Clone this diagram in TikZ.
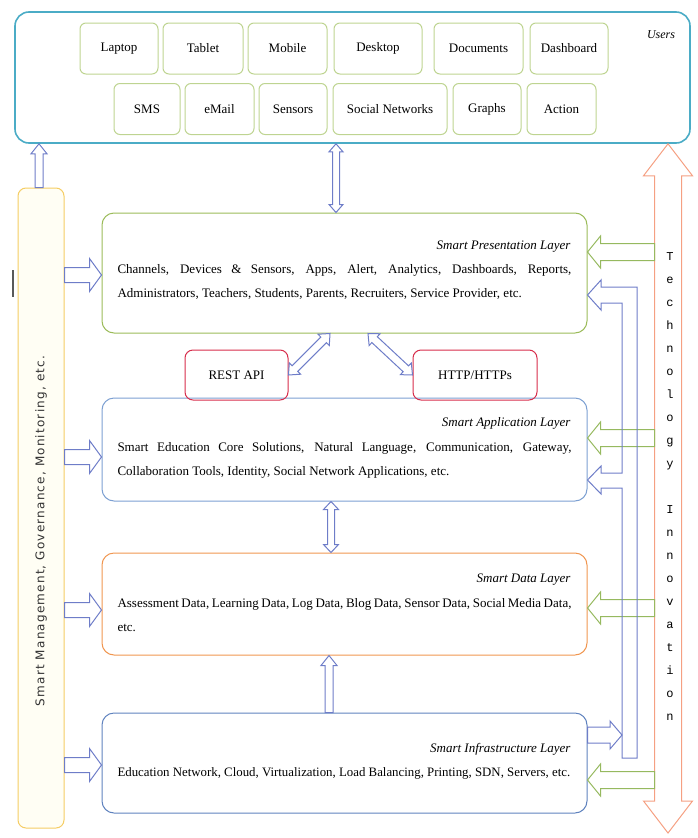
\documentclass[tikz,border=0pt]{standalone}
\usepackage{fontspec}
\setmainfont{Liberation Serif}
\newfontfamily\monofont{Liberation Mono}
\newfontfamily\barfont[LetterSpace=10]{DejaVu Sans}
\usetikzlibrary{calc}

\definecolor{usersC}{RGB}{75,172,198}
\definecolor{itemC}{RGB}{190,212,145}
\definecolor{presC}{RGB}{155,187,89}
\definecolor{appC}{RGB}{125,160,210}
\definecolor{dataC}{RGB}{240,150,80}
\definecolor{infraC}{RGB}{95,130,190}
\definecolor{apiC}{RGB}{215,45,75}
\definecolor{barC}{RGB}{245,205,100}
\definecolor{barF}{RGB}{255,254,244}
\definecolor{techC}{RGB}{245,160,130}
\definecolor{greenC}{RGB}{150,185,95}
\definecolor{blueC}{RGB}{110,125,200}

\tikzset{every picture/.style={line width=1pt}}
\tikzset{
  arr shaft/.store in=\arrw, arr head/.store in=\arrW, arr len/.store in=\arrh,
  arr shaft=4pt, arr head=8pt, arr len=8pt,
  blockarrow/.style={to path={let \p1=(\tikztostart), \p2=(\tikztotarget),
      \n1={atan2(\y2-\y1,\x2-\x1)}, \n2={veclen(\x2-\x1,\y2-\y1)-\arrh} in
      ($(\p1)+(\n1+90:\arrw)$) -- ($(\p1)+(\n1:\n2)+(\n1+90:\arrw)$)
      -- ($(\p1)+(\n1:\n2)+(\n1+90:\arrW)$) -- (\p2)
      -- ($(\p1)+(\n1:\n2)+(\n1-90:\arrW)$) -- ($(\p1)+(\n1:\n2)+(\n1-90:\arrw)$)
      -- ($(\p1)+(\n1-90:\arrw)$) -- cycle}},
  dblockarrow/.style={to path={let \p1=(\tikztostart), \p2=(\tikztotarget),
      \n1={atan2(\y2-\y1,\x2-\x1)}, \n2={veclen(\x2-\x1,\y2-\y1)-\arrh} in
      (\p1) -- ($(\p1)+(\n1:\arrh)+(\n1+90:\arrW)$) -- ($(\p1)+(\n1:\arrh)+(\n1+90:\arrw)$)
      -- ($(\p1)+(\n1:\n2)+(\n1+90:\arrw)$) -- ($(\p1)+(\n1:\n2)+(\n1+90:\arrW)$) -- (\p2)
      -- ($(\p1)+(\n1:\n2)+(\n1-90:\arrW)$) -- ($(\p1)+(\n1:\n2)+(\n1-90:\arrw)$)
      -- ($(\p1)+(\n1:\arrh)+(\n1-90:\arrw)$) -- ($(\p1)+(\n1:\arrh)+(\n1-90:\arrW)$) -- cycle}},
}

\begin{document}
\begin{tikzpicture}[x=1pt,y=-1pt,
  item/.style={draw=itemC, rounded corners=6pt, minimum height=51pt, inner sep=0pt, font=\fontsize{13}{15}\selectfont},
  layer/.style={rounded corners=12pt, minimum width=485pt, inner sep=0pt},
  ttl/.style={anchor=east, inner sep=0pt, font=\itshape\fontsize{13}{15}\selectfont},
  body/.style={anchor=west, text width=454pt, align=justify, inner sep=0pt, font=\fontsize{13}{24}\selectfont},
  api/.style={draw=apiC, rounded corners=8pt, minimum height=50pt, inner sep=0pt, font=\fontsize{13}{15}\selectfont},
  bluearr/.style={draw=blueC},
  greenarr/.style={draw=greenC, arr shaft=8.5pt, arr head=16pt, arr len=13pt},
  mgmtarr/.style={draw=blueC, arr shaft=7.5pt, arr head=16.5pt, arr len=12pt}]
\useasboundingbox (0,0) rectangle (698,838);

%Users box
\node[draw=usersC, line width=1.6pt, rounded corners=14pt, minimum width=675pt, minimum height=131pt] (users) at (352.5,77.5) {};
\node[font=\itshape\fontsize{12}{14}\selectfont] (userslbl) at (661,35) {Users};

%Users items
\node[item, minimum width=78pt] (laptop) at (119,48.5) {Laptop};
\node[item, minimum width=80pt] (tablet) at (203,48.5) {Tablet};
\node[item, minimum width=79pt] (mobile) at (287.5,48.5) {Mobile};
\node[item, minimum width=88pt] (desktop) at (378,48.5) {Desktop};
\node[item, minimum width=89pt] (documents) at (478.5,48.5) {Documents};
\node[item, minimum width=78pt] (dashboard) at (569,48.5) {Dashboard};
\node[item, minimum width=66pt] (sms) at (147,109) {SMS};
\node[item, minimum width=69pt] (email) at (219.5,109) {eMail};
\node[item, minimum width=68pt] (sensors) at (293,109) {Sensors};
\node[item, minimum width=114pt] (socialnet) at (390,109) {Social Networks};
\node[item, minimum width=68pt] (graphs) at (487,109) {Graphs};
\node[item, minimum width=69pt] (action) at (561.5,109) {Action};

%Management bar
\node[draw=barC, fill=barF, rounded corners=8pt, minimum width=46pt, minimum height=640pt] (mgmt) at (41,508) {};
\node[rotate=90, inner sep=0pt, text=black!80, font=\barfont\fontsize{12}{14}\selectfont] (mgmtlbl) at (41,531) {Smart Management, Governance, Monitoring, etc.};
\draw[line width=2pt, black!65] (13,270) -- (13,297);

%Layers
\node[layer, draw=presC, minimum height=120pt] (pres) at (344.5,273) {};
\node[ttl] (prestitle) at (571,247) {Smart Presentation Layer};
\node[body] (presbody) at (117,282) {Channels, Devices \& Sensors, Apps, Alert, Analytics, Dashboards, Reports,\linebreak Administrators, Teachers, Students, Parents, Recruiters, Service Provider, etc.};

\node[layer, draw=appC, minimum height=103pt] (app) at (344.5,449.5) {};
\node[ttl] (apptitle) at (571,423) {Smart Application Layer};
\node[body] (appbody) at (117,460) {Smart Education Core Solutions, Natural Language, Communication, Gateway,\linebreak Collaboration Tools, Identity, Social Network Applications, etc.};

\node[layer, draw=dataC, minimum height=102pt] (data) at (344.5,604) {};
\node[ttl] (datatitle) at (571,580) {Smart Data Layer};
\node[body] (databody) at (117,615) {Assessment Data, Learning Data, Log Data, Blog Data, Sensor Data, Social Media Data,\linebreak etc.};

\node[layer, draw=infraC, minimum height=100pt] (infra) at (344.5,763) {};
\node[ttl] (infratitle) at (571,749) {Smart Infrastructure Layer};
\node[anchor=west, inner sep=0pt, font=\fontsize{12.85}{15}\selectfont] (infrabody) at (117,773) {Education Network, Cloud, Virtualization, Load Balancing, Printing, SDN, Servers, etc.};

%Interfaces
\node[api, minimum width=103pt] (rest) at (236.5,375) {REST API};
\node[api, minimum width=124pt] (http) at (475,375) {HTTP/HTTPs};

%Vertical arrows
\draw[bluearr, arr shaft=4pt, arr head=8pt, arr len=10pt] (mgmt.north -| 39,0) to[blockarrow] (users.south -| 39,0);
\draw[bluearr, arr shaft=3.5pt, arr head=7pt, arr len=8pt] (users.south -| 336,0) to[dblockarrow] (pres.north -| 336,0);
\draw[bluearr, arr shaft=4pt, arr head=8pt, arr len=9pt] (pres.south -| 330,0) to[dblockarrow] (rest.east);
\draw[bluearr, arr shaft=4pt, arr head=8pt, arr len=9pt] (pres.south -| 368,0) to[dblockarrow] (http.west);
\draw[bluearr, arr shaft=3.5pt, arr head=7.5pt, arr len=8pt] (app.south -| 331,0) to[dblockarrow] (data.north -| 331,0);
\draw[bluearr, arr shaft=4pt, arr head=8pt, arr len=10pt] (infra.north -| 329,0) to[blockarrow] (data.south -| 329,0);

%Management arrows
\draw[mgmtarr] (mgmt.east |- 0,275) to[blockarrow] (pres.west |- 0,275);
\draw[mgmtarr] (mgmt.east |- 0,457) to[blockarrow] (app.west |- 0,457);
\draw[mgmtarr] (mgmt.east |- 0,610) to[blockarrow] (data.west |- 0,610);
\draw[mgmtarr] (mgmt.east |- 0,765) to[blockarrow] (infra.west |- 0,765);

%Technology innovation
\coordinate (techbot) at (668,833);
\draw[draw=techC, arr shaft=13.5pt, arr head=24.5pt, arr len=32pt] (users.south -| techbot) to[dblockarrow] (techbot);
\node[align=center, inner sep=0pt, font=\monofont\fontsize{12}{23}\selectfont] (tech) at (670,487) {T\\e\\c\\h\\n\\o\\l\\o\\g\\y\\[23pt]I\\n\\n\\o\\v\\a\\t\\i\\o\\n};

\draw[greenarr] (654.5,252) to[blockarrow] (pres.east |- 0,252);
\draw[greenarr] (654.5,438) to[blockarrow] (app.east |- 0,438);
\draw[greenarr] (654.5,608) to[blockarrow] (data.east |- 0,608);
\draw[greenarr] (654.5,780) to[blockarrow] (infra.east |- 0,780);

%Feedback pipe
\draw[bluearr] (637,758) -- (637,287) -- (601,287) -- (601,280) -- (pres.east |- 0,295) -- (601,310) -- (601,303) -- (622,303) -- (622,473) -- (601,473) -- (601,466) -- (app.east |- 0,480) -- (601,494) -- (601,488) -- (622,488) -- (622,758) -- cycle;
\draw[bluearr, arr shaft=8pt, arr head=14pt, arr len=12pt] (infra.east |- 0,735) to[blockarrow] (622,735);

\end{tikzpicture}
\end{document}
